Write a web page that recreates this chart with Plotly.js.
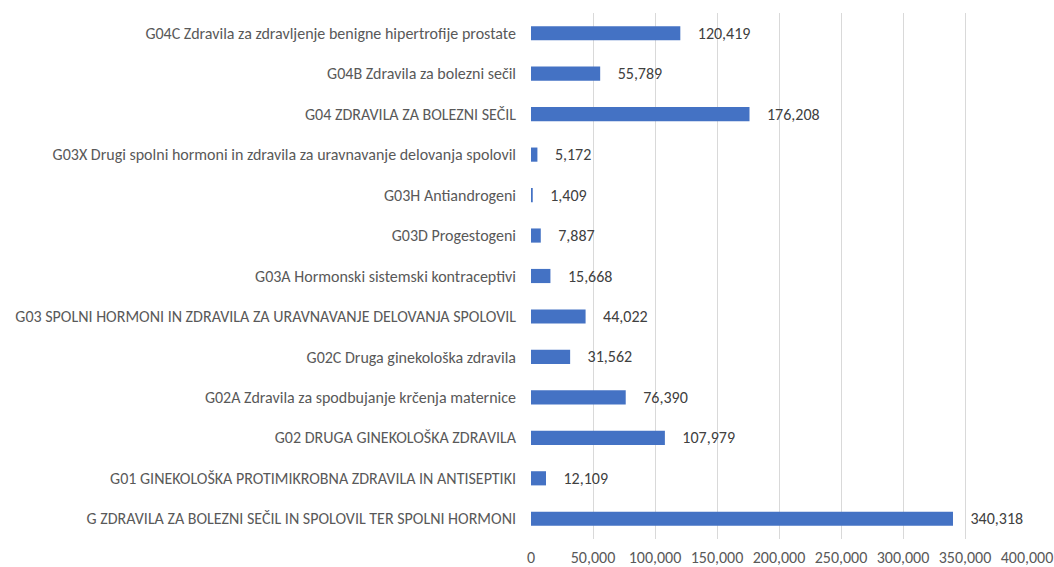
<!DOCTYPE html>
<html><head><meta charset="utf-8">
<script src="https://cdn.plot.ly/plotly-3.0.1.min.js"></script>
<style>body{margin:0;background:#fff}#c{width:1054px;height:567px}</style>
</head><body><div id="c"></div>
<script>
const categories = [
  "G ZDRAVILA ZA BOLEZNI SEČIL IN SPOLOVIL TER SPOLNI HORMONI",
  "G01 GINEKOLOŠKA PROTIMIKROBNA ZDRAVILA IN ANTISEPTIKI",
  "G02 DRUGA GINEKOLOŠKA ZDRAVILA",
  "G02A Zdravila za spodbujanje krčenja maternice",
  "G02C Druga ginekološka zdravila",
  "G03 SPOLNI HORMONI IN ZDRAVILA ZA URAVNAVANJE DELOVANJA SPOLOVIL",
  "G03A Hormonski sistemski kontraceptivi",
  "G03D Progestogeni",
  "G03H Antiandrogeni",
  "G03X Drugi spolni hormoni in zdravila za uravnavanje delovanja spolovil",
  "G04 ZDRAVILA ZA BOLEZNI SEČIL",
  "G04B Zdravila za bolezni sečil",
  "G04C Zdravila za zdravljenje benigne hipertrofije prostate"
];
const values = [340318, 12109, 107979, 76390, 31562, 44022, 15668, 7887, 1409, 5172, 176208, 55789, 120419];
const tickVals = [0, 50000, 100000, 150000, 200000, 250000, 300000, 350000, 400000];

const font = "Carlito, Calibri, Lato, sans-serif";
Plotly.newPlot('c', [{
  type: 'bar', orientation: 'h',
  x: values, y: categories,
  marker: {color: '#4472C4'},
  texttemplate: '    %{x:,}',
  textposition: 'outside',
  constraintext: 'none',
  cliponaxis: false,
  textfont: {family: font, size: 16, color: '#404040'},
  hoverinfo: 'none'
}], {
  width: 1054, height: 567,
  margin: {l: 531, r: 27, t: 13, b: 28},
  paper_bgcolor: '#fff', plot_bgcolor: '#fff',
  bargap: 0.65,
  showlegend: false,
  font: {family: font, size: 16, color: '#595959'},
  xaxis: {
    range: [0, 400000], tickvals: tickVals, tickformat: ',d',
    showgrid: true, gridcolor: '#d9d9d9', gridwidth: 1,
    zeroline: false, showline: false, fixedrange: true,
    ticklabelstandoff: 7, automargin: false
  },
  yaxis: {
    type: 'category', range: [-0.5, 12.5],
    showgrid: false, zeroline: false, showline: false,
    ticklabelstandoff: 14, automargin: false
  }
}, {staticPlot: true});
</script></body></html>
